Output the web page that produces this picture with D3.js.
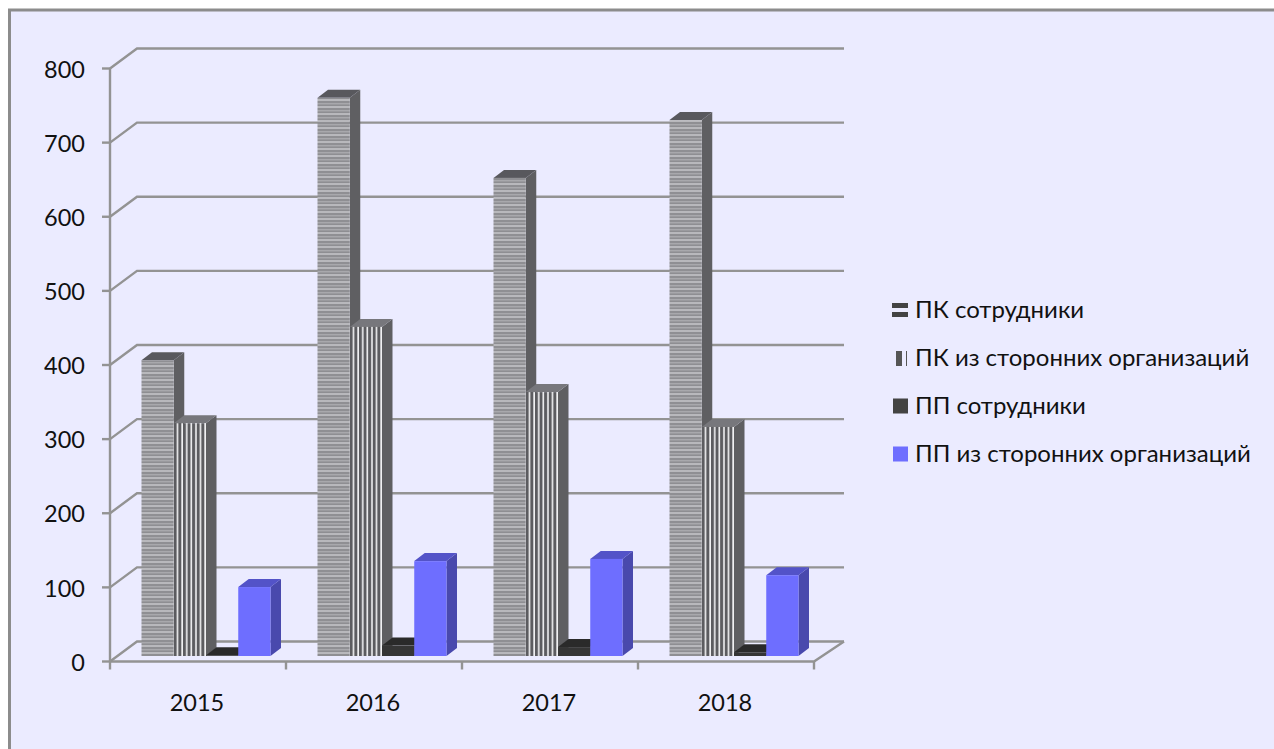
<!DOCTYPE html>
<html>
<head>
<meta charset="utf-8">
<script src="https://cdn.jsdelivr.net/npm/d3@7"></script>
<style>
body { margin: 0; background: #fff; overflow: hidden; }
svg { display: block; }
text { font-family: Lato, "Open Sans", sans-serif; fill: #111; }
</style>
</head>
<body>
<div id="chart"></div>
<script>
const years = ['2015', '2016', '2017', '2018'];
const seriesNames = ['ПК сотрудники', 'ПК из сторонних организаций', 'ПП сотрудники', 'ПП из сторонних организаций'];
const pkStaff = [399, 753, 645, 723];
const pkExternal = [314, 444, 356, 309];
const ppStaff = [1, 14, 12, 5];
const ppExternal = [93, 128, 131, 109];
const yTicks = [0, 100, 200, 300, 400, 500, 600, 700, 800];

const allValues = [pkStaff, pkExternal, ppStaff, ppExternal];

const width = 1274, height = 749;
const floorY = 661.5, topY = 68.5, left = 110, right = 814;
const depth = { x: 27, y: -20 };          // back wall offset
const barShift = { x: 0, y: -5.5 };       // bars stand a bit inside the floor
const barDepth = { x: 10.5, y: -8 };

const svg = d3.select('#chart').append('svg')
    .attr('width', width)
    .attr('height', height);

// Patterns
const defs = svg.append('defs');

defs.append('filter').attr('id', 'soft')
    .append('feGaussianBlur').attr('stdDeviation', 0.5);

const hPat = defs.append('pattern').attr('id', 'hatch-h')
    .attr('width', 6).attr('height', 7).attr('patternUnits', 'userSpaceOnUse');
hPat.append('rect').attr('width', 6).attr('height', 7).attr('fill', '#9c9ca0');
[[0, '#d4d4d8'], [2, '#828286'], [4, '#b4b4b8'], [5, '#808084']].forEach(d => {
    hPat.append('rect').attr('y', d[0]).attr('width', 6).attr('height', 1).attr('fill', d[1]);
});

const vPat = defs.append('pattern').attr('id', 'hatch-v')
    .attr('width', 4.6).attr('height', 6).attr('patternUnits', 'userSpaceOnUse');
vPat.append('rect').attr('width', 4.6).attr('height', 6).attr('fill', '#f2f2f4');
vPat.append('rect').attr('x', 0).attr('width', 3).attr('height', 6).attr('fill', '#5c5c60');

const x0 = d3.scaleBand().domain(years).range([left, right]);
const x1 = d3.scaleBand().domain(d3.range(4)).range([31.5, 160.5]);
const y = d3.scaleLinear().domain([0, 800]).range([floorY, topY]);

const faces = [
    { front: 'url(#hatch-h)', side: '#5e5e62', top: '#59595d' },
    { front: 'url(#hatch-v)', side: '#5e5e62', top: '#77777b' },
    { front: '#343434', side: '#2c2c2c', top: '#2c2c2c' },
    { front: '#6e6eff', side: '#4848ad', top: '#5252c8' }
];

// Background panel, runs off the page at right and bottom
svg.append('rect')
    .attr('x', 9.5).attr('y', 10)
    .attr('width', 1280).attr('height', 760)
    .attr('fill', '#ebebff')
    .attr('stroke', '#8c8c8c')
    .attr('stroke-width', 3);

// Grid, floor and axes
const gridColor = '#939393';
const grid = svg.append('g').attr('fill', 'none').attr('stroke', gridColor).attr('stroke-width', 2.4);

grid.selectAll('.grid').data(yTicks).enter().append('polyline')
    .attr('class', 'grid')
    .attr('points', d => `${left},${y(d)} ${left + depth.x},${y(d) + depth.y} ${right + 30},${y(d) + depth.y}`);

grid.append('polyline')
    .attr('points', `${left},${floorY} ${right},${floorY} ${right + 30},${floorY + depth.y}`);

grid.append('line')
    .attr('x1', left).attr('x2', left)
    .attr('y1', topY).attr('y2', floorY);

// Y ticks
grid.selectAll('.ytick').data(yTicks).enter().append('line')
    .attr('class', 'ytick')
    .attr('x1', left - 8).attr('x2', left)
    .attr('y1', d => y(d)).attr('y2', d => y(d));

// X ticks
grid.selectAll('.xtick').data(years.concat(['end'])).enter().append('line')
    .attr('class', 'xtick')
    .attr('x1', (d, i) => i < 4 ? x0(d) : right)
    .attr('x2', (d, i) => i < 4 ? x0(d) : right)
    .attr('y1', floorY).attr('y2', floorY + 8);

svg.selectAll('.ylabel').data(yTicks).enter().append('text')
    .attr('class', 'ylabel')
    .attr('x', 85)
    .attr('y', d => y(d) + 1)
    .attr('dy', '.35em')
    .attr('text-anchor', 'end')
    .attr('font-size', 23.5)
    .text(d => d);

svg.selectAll('.xlabel').data(years).enter().append('text')
    .attr('class', 'xlabel')
    .attr('x', d => x0(d) + x0.bandwidth() / 2 - 1)
    .attr('y', 703)
    .attr('dy', '.35em')
    .attr('text-anchor', 'middle')
    .attr('font-size', 23.5)
    .text(d => d);

// Bars
const barLayer = svg.append('g').attr('filter', 'url(#soft)');
const yearGroup = barLayer.selectAll('.year').data(years).enter().append('g')
    .attr('class', 'year')
    .attr('transform', d => `translate(${x0(d)},${barShift.y})`);

allValues.forEach((values, s) => {
    const w = x1.bandwidth();
    const bar = yearGroup.append('g').attr('transform', `translate(${x1(s)},0)`);
    const top = (d, i) => y(values[i]);

    bar.append('polygon')
        .attr('fill', faces[s].side)
        .attr('points', (d, i) => `${w},${floorY} ${w + barDepth.x},${floorY + barDepth.y} ${w + barDepth.x},${top(d, i) + barDepth.y} ${w},${top(d, i)}`);
    bar.append('polygon')
        .attr('fill', faces[s].top)
        .attr('points', (d, i) => `0,${top(d, i)} ${barDepth.x},${top(d, i) + barDepth.y} ${w + barDepth.x},${top(d, i) + barDepth.y} ${w},${top(d, i)}`);
    bar.append('rect')
        .attr('x', 0)
        .attr('y', top)
        .attr('width', w)
        .attr('height', (d, i) => floorY - top(d, i))
        .attr('fill', faces[s].front);
});

// Legend
const legendY = d3.scalePoint().domain(d3.range(4)).range([310, 454]);
const legend = svg.selectAll('.legend').data(seriesNames).enter().append('g')
    .attr('class', 'legend')
    .attr('transform', (d, i) => `translate(0,${legendY(i)})`);

legend.append('text')
    .attr('x', 915)
    .attr('dy', '.35em')
    .attr('font-size', 24)
    .text(d => d);

const sw = 893;
legend.filter((d, i) => i === 0).each(function () {
    const g = d3.select(this);
    g.append('rect').attr('x', sw - 1).attr('y', -7).attr('width', 16).attr('height', 5).attr('fill', '#434343');
    g.append('rect').attr('x', sw - 1).attr('y', 2).attr('width', 16).attr('height', 5).attr('fill', '#434343');
});
legend.filter((d, i) => i === 1).each(function () {
    const g = d3.select(this);
    g.append('rect').attr('x', sw + 3).attr('y', -7).attr('width', 6).attr('height', 15).attr('fill', '#555');
    g.append('rect').attr('x', sw + 13).attr('y', -7).attr('width', 1).attr('height', 15).attr('fill', '#555');
});
legend.filter((d, i) => i >= 2).append('rect')
    .attr('x', sw)
    .attr('y', -7.5)
    .attr('width', 15)
    .attr('height', 15)
    .attr('fill', (d, i) => i === 0 ? '#434343' : '#6e6eff');
</script>
</body>
</html>
